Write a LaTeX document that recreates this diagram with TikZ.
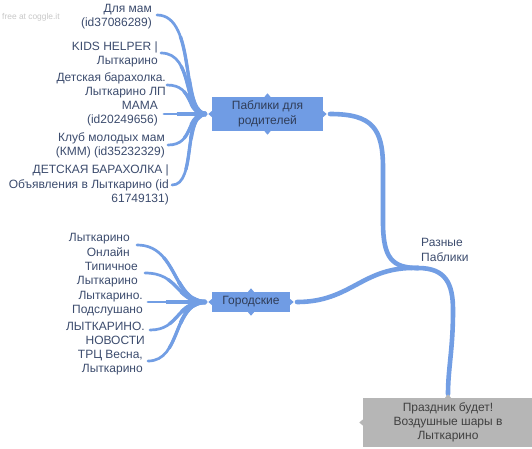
\documentclass[tikz,border=0pt]{standalone}
\usepackage{fontspec}
\setmainfont{Liberation Sans}
\usetikzlibrary{calc}
\definecolor{branch}{RGB}{114,158,228}
\definecolor{boxblue}{RGB}{112,156,228}
\definecolor{labeltext}{RGB}{60,76,110}
\definecolor{greybox}{RGB}{182,182,182}
\definecolor{watermark}{RGB}{200,200,200}
\tikzset{
  lbl/.style={anchor=east, align=right, inner sep=0pt, text=labeltext,
    font=\fontsize{12}{14.2}\selectfont},
  rootlbl/.style={anchor=west, align=left, inner sep=0pt, text=labeltext,
    font=\fontsize{12}{14.2}\selectfont},
  bluebox/.style={fill=boxblue, align=center, inner sep=0pt, text=labeltext!80!black,
    font=\fontsize{12}{15.5}\selectfont},
  greyboxst/.style={fill=greybox, align=center, inner sep=0pt, text=black!75,
    font=\fontsize{12}{13.8}\selectfont},
  twig/.style={draw=branch, line width=2.7pt, line cap=round},
  twigpart/.style={draw=branch, line cap=butt},
  limb/.style={draw=branch, line width=4.6pt, line cap=round},
}
\newcommand{\boxmarks}[2]{% node, colour
  \fill[#2] ([xshift=-3pt]#1.north) -- ([yshift=3.5pt]#1.north) -- ([xshift=3pt]#1.north) -- cycle;
  \fill[#2] ([xshift=-3pt]#1.south) -- ([yshift=-3.5pt]#1.south) -- ([xshift=3pt]#1.south) -- cycle;
  \fill[#2] ([yshift=-3pt]#1.west) -- ([xshift=-3.5pt]#1.west) -- ([yshift=3pt]#1.west) -- cycle;
  \fill[#2] ([yshift=-3pt]#1.east) -- ([xshift=3.5pt]#1.east) -- ([yshift=3pt]#1.east) -- cycle;
}
% tapered twig: child end, control 1, control 2, junction
\newcommand{\taper}[4]{%
  \draw[twig] (#1) .. controls (#2) and (#3) .. (#4);
  \foreach \tsplit/\twid in {0.3/3.3, 0.6/3.9, 0.85/4.4} {
    \coordinate (tA) at ($(#1)!\tsplit!(#2)$);
    \coordinate (tB) at ($(#2)!\tsplit!(#3)$);
    \coordinate (tC) at ($(#3)!\tsplit!(#4)$);
    \coordinate (tD) at ($(tA)!\tsplit!(tB)$);
    \coordinate (tE) at ($(tB)!\tsplit!(tC)$);
    \coordinate (tM) at ($(tD)!\tsplit!(tE)$);
    \draw[twigpart, line width=\twid pt] (tM) .. controls (tE) and (tC) .. (#4);
  }
}
\begin{document}
\begin{tikzpicture}[x=1pt,y=-1pt]
\useasboundingbox (0,0) rectangle (532,448);
\fill[white] (0,0) rectangle (532,448);

% watermark
\node[anchor=west, inner sep=0pt, text=watermark, font=\fontsize{8.4}{10}\selectfont] (wm) at (2,17) {free at coggle.it};

% junction points
\coordinate (root) at (418,268);
\coordinate (jp) at (206,114);
\coordinate (jg) at (206,302);

% main limbs
\coordinate (pbr) at (330,114);
\coordinate (gbr) at (297,302);
\coordinate (grt) at (448,394);
\draw[limb] (pbr) .. controls (372,114) and (383,128) .. (383,168) -- (383,222) .. controls (383,258) and (392,268) .. (root);
\draw[limb] (root) .. controls (362,266) and (352,302) .. (gbr);
\draw[limb] (root) .. controls (446,268) and (453,284) .. (453,310) .. controls (453,350) and (448,368) .. (grt);

% Паблики для родителей children
\node[lbl] (p1) at (152,17) {Для мам\\(id37086289)};
\node[lbl] (p2) at (158,54) {KIDS HELPER |\\Лыткарино};
\node[lbl] (p3) at (166,85) {Детская барахолка.\\Лыткарино ЛП};
\node[lbl] (p4) at (158,114) {МАМА\\(id20249656)};
\node[lbl] (p5) at (165,145) {Клуб молодых мам\\(КММ) (id35232329)};
\node[lbl] (p6) at (169,185) {ДЕТСКАЯ БАРАХОЛКА |\\Объявления в Лыткарино (id\\61749131)};
\coordinate (e1) at (157,15);
\coordinate (e2) at (161,53);
\coordinate (e3) at (167,85);
\coordinate (e4) at (164,114);
\coordinate (e5) at (168,145);
\coordinate (e6) at (172,185);
\coordinate (k1) at (197,15);  \coordinate (l1) at (180,114);
\coordinate (k2) at (195,53);  \coordinate (l2) at (182,114);
\coordinate (k3) at (195,85);  \coordinate (l3) at (185,114);
\coordinate (k4) at (178,114); \coordinate (l4) at (192,114);
\coordinate (k5) at (195,145); \coordinate (l5) at (185,114);
\coordinate (k6) at (197,185); \coordinate (l6) at (182,114);
\taper{e1}{k1}{l1}{jp}
\taper{e2}{k2}{l2}{jp}
\taper{e3}{k3}{l3}{jp}
\taper{e4}{k4}{l4}{jp}
\taper{e5}{k5}{l5}{jp}
\taper{e6}{k6}{l6}{jp}

% Городские children
\node[lbl] (g1) at (130,245) {Лыткарино\\Онлайн};
\node[lbl] (g2) at (138,275) {Типичное\\Лыткарино};
\node[lbl] (g3) at (143,304) {Лыткарино.\\Подслушано};
\node[lbl] (g4) at (145,333) {ЛЫТКАРИНО.\\НОВОСТИ};
\node[lbl] (g5) at (143,363) {ТРЦ Весна,\\Лыткарино};
\coordinate (f1) at (137,245);
\coordinate (f2) at (145,273);
\coordinate (f3) at (148,302);
\coordinate (f4) at (150,330);
\coordinate (f5) at (148,361);
\coordinate (m1) at (178,245); \coordinate (n1) at (172,302);
\coordinate (m2) at (180,273); \coordinate (n2) at (175,302);
\coordinate (m3) at (168,302); \coordinate (n3) at (188,302);
\coordinate (m4) at (180,330); \coordinate (n4) at (175,302);
\coordinate (m5) at (182,361); \coordinate (n5) at (172,302);
\taper{f1}{m1}{n1}{jg}
\taper{f2}{m2}{n2}{jg}
\taper{f3}{m3}{n3}{jg}
\taper{f4}{m4}{n4}{jg}
\taper{f5}{m5}{n5}{jg}

% main boxes
\node[bluebox, minimum width=111pt, minimum height=34pt] (pb) at (267.5,114) {Паблики для\\родителей};
\node[bluebox, minimum width=78pt, minimum height=20pt] (gb) at (251,302) {Городские};
\node[greyboxst, minimum width=170pt, minimum height=49pt] (gr) at (448,422.5) {Праздник будет!\\Воздушные шары в\\Лыткарино};
\boxmarks{pb}{boxblue}
\boxmarks{gb}{boxblue}
\fill[greybox] ([xshift=-3pt]gr.north) -- ([yshift=3.5pt]gr.north) -- ([xshift=3pt]gr.north) -- cycle;
\fill[greybox] ([yshift=-3pt]gr.west) -- ([xshift=-3.5pt]gr.west) -- ([yshift=3pt]gr.west) -- cycle;

% root label
\node[rootlbl] (rl) at (421,250) {Разные\\Паблики};
\end{tikzpicture}
\end{document}
